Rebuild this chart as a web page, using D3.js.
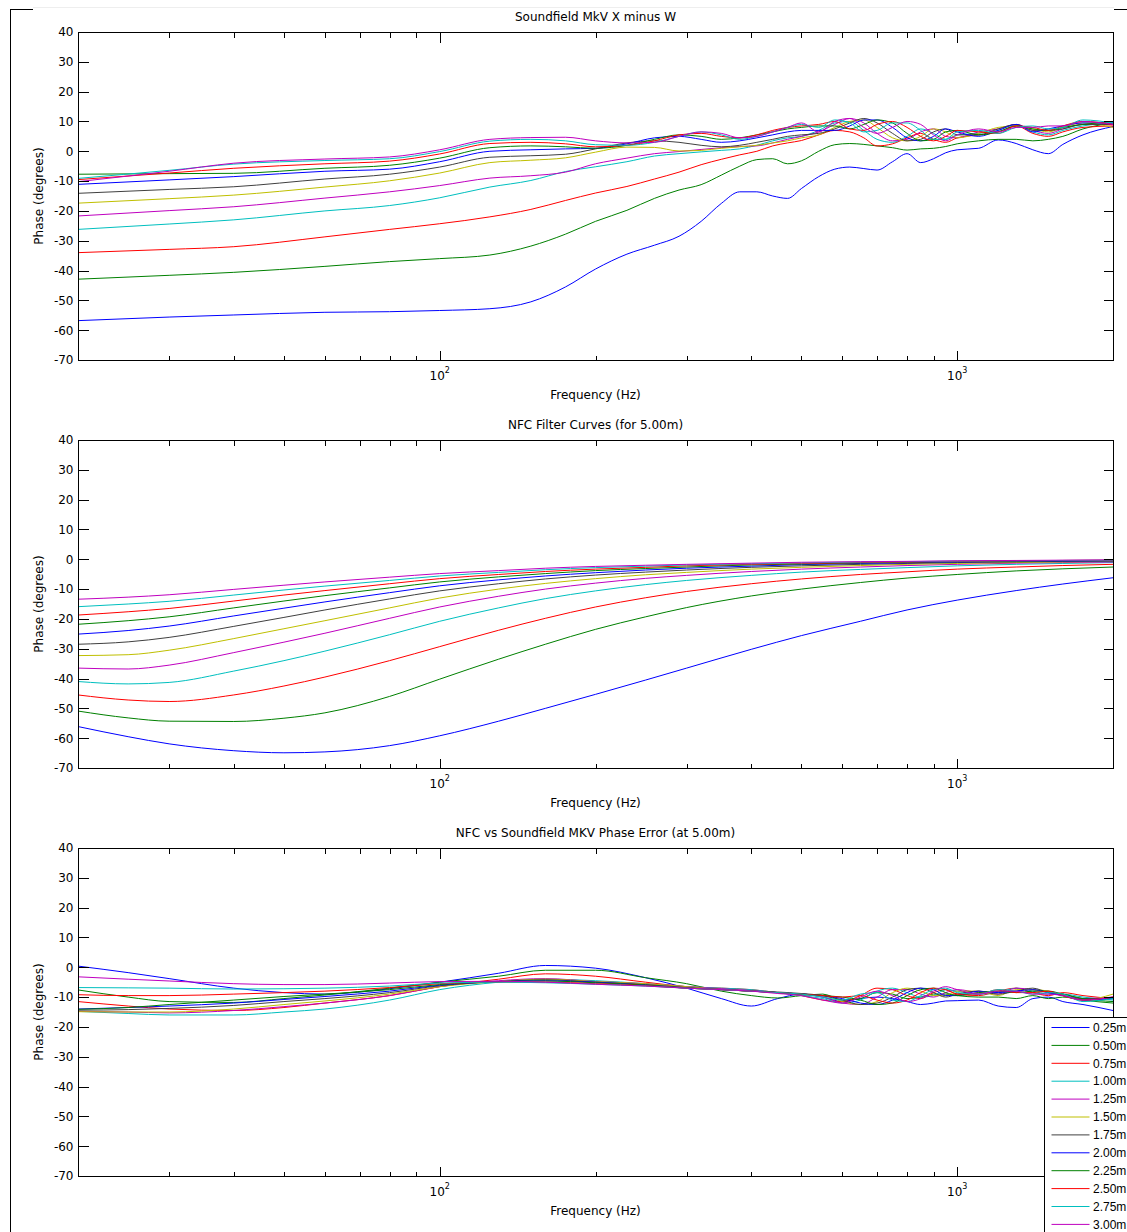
<!DOCTYPE html>
<html>
<head>
<meta charset="utf-8">
<script src="https://cdn.jsdelivr.net/npm/d3@7"></script>
<style>
  body { margin: 0; background: #fff; }
  svg text { font-family: "DejaVu Sans", "Liberation Sans", Arial, sans-serif; font-size: 12px; fill: #000; }
  svg .legend text { font-family: "Liberation Sans", Arial, sans-serif; font-size: 12px; }
</style>
</head>
<body>
<div id="chart"></div>
<script>
// distances in the legend, one curve per distance
const distances = ['0.25m', '0.50m', '0.75m', '1.00m', '1.25m', '1.50m', '1.75m', '2.00m', '2.25m', '2.50m', '2.75m', '3.00m'];
// matlab colour order, wraps after 7
const lineColors = ['#0000ff', '#008000', '#ff0000', '#00bfbf', '#bf00bf', '#bfbf00', '#404040',
                    '#0000ff', '#008000', '#ff0000', '#00bfbf', '#bf00bf'];

const yTicks = [40, 30, 20, 10, 0, -10, -20, -30, -40, -50, -60, -70];
const xMinorTicks = [20, 30, 40, 50, 60, 70, 80, 90, 200, 300, 400, 500, 600, 700, 800, 900, 2000];
const xMajorTicks = [100, 1000];

// ---- panel 1 : Soundfield MkV X minus W ----
const freqsTop = [20, 30, 40, 60, 80, 100, 125, 150, 175, 200, 230, 260, 290, 320, 350, 380, 410, 440, 470, 500,
                  540, 580, 620, 660, 700, 750, 800, 850, 900, 950, 1000, 1100, 1200, 1300, 1400, 1500, 1600, 1750, 2000];
const top025 = [-56.8, -55.6, -54.9, -54.0, -53.8, -53.4, -52.8, -50.5, -45.5, -39.5, -34.5, -31.5, -28.5, -23.5, -17.5, -13.6, -13.6, -15.0, -15.8, -12.5,
                -8.5, -6.0, -5.3, -5.8, -6.3, -3.5, -0.8, -3.8, -2.5, -0.5, 0.5, 1.0, 3.8, 2.6, 0.5, -0.8, 2.3, 5.5, 8.3];
const top050 = [-42.9, -41.6, -40.6, -38.6, -37.0, -36.0, -34.8, -31.8, -27.8, -23.5, -19.8, -15.8, -13.0, -11.2, -8.0, -5.0, -2.8, -2.5, -4.2, -3.2,
                0.0, 2.2, 2.6, 2.3, 1.8, 1.2, 0.4, 0.8, 1.0, 1.6, 2.5, 3.5, 4.0, 4.0, 3.5, 4.0, 5.0, 7.5, 9.5];
const top075 = [-34.0, -32.9, -32.0, -28.7, -26.2, -24.3, -22.0, -19.5, -16.5, -14.0, -11.8, -9.3, -7.0, -4.5, -2.7, -1.2, 0.0, 1.8, 2.8, 3.6,
                5.5, 7.0, 6.5, 4.5, 1.8, 2.5, 4.5, 6.0, 4.0, 3.0, 4.5, 5.5, 6.5, 8.5, 6.0, 5.0, 6.5, 8.0, 8.5];
const top100 = [-26.2, -24.4, -23.0, -20.0, -18.2, -15.6, -12.0, -9.8, -6.8, -5.2, -3.5, -1.6, -0.8, -0.2, 0.3, 0.8, 2.0, 3.5, 4.5, 5.0,
                7.0, 9.5, 10.0, 7.0, 4.0, 3.0, 5.0, 7.5, 6.0, 4.0, 5.5, 6.0, 7.0, 9.0, 6.5, 5.5, 7.0, 8.5, 9.5];
const top125 = [-21.7, -19.9, -18.6, -15.7, -13.6, -11.5, -9.0, -8.2, -7.0, -4.2, -2.3, -0.8, -0.1, 0.6, 1.2, 1.6, 1.8, 2.8, 4.0, 5.0,
                6.5, 9.0, 11.0, 9.5, 6.0, 3.5, 4.0, 6.5, 7.5, 5.0, 4.5, 6.5, 7.5, 9.0, 7.0, 6.0, 7.5, 9.0, 9.0];
const top150 = [-17.4, -15.9, -14.7, -12.0, -9.9, -7.3, -3.8, -3.0, -2.2, -0.3, 1.4, 1.3, 0.1, 0.3, 1.0, 1.5, 2.0, 2.8, 3.5, 4.5,
                5.5, 8.0, 10.0, 10.5, 8.0, 4.5, 3.5, 5.0, 7.5, 6.5, 4.5, 6.0, 8.0, 8.5, 7.5, 6.5, 8.0, 9.5, 8.0];
const top175 = [-14.1, -12.8, -11.9, -9.3, -7.7, -5.3, -2.0, -1.5, -1.0, 0.8, 2.8, 3.5, 3.0, 2.0, 1.5, 2.0, 3.0, 4.0, 5.0, 5.5,
                6.0, 7.5, 9.5, 11.0, 9.5, 6.0, 3.5, 4.0, 6.5, 7.5, 5.5, 5.5, 7.5, 9.0, 7.0, 7.0, 7.5, 9.0, 9.0];
const top200 = [-11.1, -9.6, -8.5, -6.7, -6.0, -3.5, 0.0, 0.5, 0.8, 1.0, 2.5, 4.5, 5.0, 4.0, 3.0, 3.5, 4.5, 5.5, 6.5, 7.0,
                7.0, 7.0, 8.5, 10.5, 10.5, 8.0, 4.5, 3.5, 5.0, 7.5, 6.5, 5.0, 7.0, 9.0, 6.5, 7.5, 8.5, 9.5, 9.5];
const top225 = [-7.7, -7.5, -7.4, -5.7, -4.7, -2.3, 1.2, 1.8, 1.5, 1.0, 2.0, 4.0, 5.5, 5.0, 4.0, 4.5, 5.5, 6.5, 7.5, 8.0,
                8.5, 8.5, 7.5, 9.0, 10.5, 9.5, 6.0, 3.5, 4.0, 6.5, 7.0, 5.5, 6.5, 8.5, 7.5, 7.0, 8.0, 9.0, 10.0];
const top250 = [-9.5, -7.3, -5.7, -4.2, -3.3, -0.9, 2.6, 3.0, 2.5, 1.5, 2.0, 3.5, 5.5, 6.0, 5.0, 4.5, 5.5, 7.0, 8.0, 8.5,
                9.0, 10.0, 7.5, 7.0, 9.0, 10.0, 8.0, 5.0, 3.5, 5.0, 7.0, 6.5, 6.0, 8.5, 8.0, 7.0, 8.5, 10.0, 9.0];
const top275 = [-9.1, -6.4, -4.3, -3.1, -2.5, -0.1, 3.4, 4.0, 3.5, 2.2, 2.0, 3.0, 5.0, 6.5, 5.5, 4.0, 5.0, 6.5, 8.0, 9.0,
                8.0, 10.5, 9.5, 6.5, 7.0, 9.5, 9.5, 7.0, 4.0, 4.0, 6.5, 7.0, 6.0, 8.0, 8.5, 7.5, 8.0, 10.5, 9.5];
const top300 = [-10.2, -6.7, -4.0, -2.6, -1.9, 0.5, 4.0, 4.6, 4.7, 3.5, 2.8, 3.0, 5.0, 6.5, 6.0, 4.5, 5.0, 6.5, 8.0, 9.5,
                6.5, 10.0, 11.0, 8.0, 6.0, 8.0, 10.0, 9.0, 5.5, 3.5, 5.5, 7.5, 6.5, 8.0, 8.0, 8.5, 8.5, 10.0, 9.0];

// ---- panel 2 : NFC filter curves ----
const freqsMid = [20, 25, 30, 40, 50, 60, 80, 100, 130, 160, 200, 250, 300, 400, 500, 650, 800, 1000, 1300, 1600, 2000];
const mid025 = [-56.1, -59.5, -61.9, -64.2, -64.9, -64.6, -62.5, -59.2, -54.3, -50.0, -45.3, -40.5, -36.5, -30.2, -25.6, -20.8, -17.0, -13.7, -10.5, -8.3, -6.2];
const mid050 = [-50.9, -53.2, -54.3, -54.4, -53.3, -51.5, -46.0, -40.2, -33.5, -28.5, -23.5, -19.3, -16.2, -12.3, -10.0, -7.8, -6.3, -5.1, -3.9, -3.2, -2.6];
const mid075 = [-45.5, -47.2, -47.7, -45.5, -42.5, -39.5, -34.0, -29.3, -23.8, -19.8, -16.0, -12.9, -10.8, -8.2, -6.6, -5.1, -4.2, -3.3, -2.6, -2.1, -1.7];
const mid100 = [-41.0, -41.8, -41.3, -37.5, -34.0, -30.8, -25.3, -20.8, -16.3, -13.2, -10.6, -8.5, -7.1, -5.4, -4.3, -3.4, -2.8, -2.2, -1.7, -1.4, -1.1];
const mid125 = [-36.5, -36.8, -35.5, -31.3, -27.8, -24.8, -19.8, -16.0, -12.4, -10.0, -8.0, -6.4, -5.4, -4.1, -3.3, -2.6, -2.1, -1.7, -1.3, -1.1, -0.9];
const mid150 = [-32.3, -32.0, -30.5, -26.6, -23.3, -20.6, -16.3, -13.0, -10.0, -8.1, -6.5, -5.2, -4.4, -3.3, -2.7, -2.1, -1.7, -1.4, -1.1, -0.9, -0.7];
const mid175 = [-28.5, -27.7, -26.2, -22.5, -19.5, -17.0, -13.3, -10.6, -8.2, -6.6, -5.3, -4.3, -3.6, -2.7, -2.2, -1.7, -1.4, -1.1, -0.9, -0.7, -0.6];
const mid200 = [-25.1, -23.9, -22.4, -19.0, -16.4, -14.3, -11.2, -8.9, -6.9, -5.6, -4.5, -3.6, -3.0, -2.3, -1.8, -1.4, -1.2, -0.9, -0.7, -0.6, -0.5];
const mid225 = [-21.8, -20.6, -19.3, -16.3, -14.0, -12.2, -9.6, -7.6, -5.9, -4.8, -3.8, -3.1, -2.6, -1.9, -1.6, -1.2, -1.0, -0.8, -0.6, -0.5, -0.4];
const mid250 = [-18.7, -17.6, -16.5, -14.0, -12.0, -10.5, -8.2, -6.5, -5.1, -4.1, -3.3, -2.7, -2.2, -1.7, -1.4, -1.1, -0.9, -0.7, -0.5, -0.4, -0.3];
const mid275 = [-15.9, -15.0, -14.1, -12.0, -10.3, -9.0, -7.1, -5.6, -4.4, -3.5, -2.8, -2.3, -1.9, -1.5, -1.2, -0.9, -0.8, -0.6, -0.5, -0.4, -0.3];
const mid300 = [-13.4, -12.7, -11.9, -10.1, -8.7, -7.6, -6.0, -4.8, -3.8, -3.0, -2.4, -2.0, -1.7, -1.3, -1.0, -0.8, -0.7, -0.5, -0.4, -0.3, -0.2];

// ---- panel 3 : phase error ----
const freqsErr = [20, 25, 30, 40, 50, 60, 80, 100, 130, 160, 200, 250, 300, 350, 400, 450, 500, 550, 600, 650, 700,
                  750, 800, 850, 900, 950, 1000, 1100, 1200, 1300, 1400, 1500, 1600, 1750, 2000];
const err025 = [0.4, -1.8, -3.8, -7.0, -8.5, -9.0, -7.2, -5.0, -2.0, 0.6, -0.3, -3.5,
                -7.0, -10.5, -13.0, -10.5, -9.0, -10.0, -11.5, -10.5, -10.0, -10.5, -11.5, -12.5, -12.0, -11.3, -11.2, -11.0, -13.0, -13.5, -10.5, -10.0, -11.5, -12.5, -14.5];
const err050 = [-7.6, -10.0, -11.5, -11.8, -10.5, -9.3, -7.0, -5.0, -3.0, -1.0, -1.0, -3.5,
                -5.5, -8.0, -9.5, -10.3, -9.5, -9.0, -11.0, -10.5, -8.5, -9.0, -10.5, -10.0, -9.0, -9.0, -9.5, -10.0, -10.0, -10.5, -9.5, -10.5, -10.0, -11.0, -12.0];
const err075 = [-11.5, -13.0, -14.0, -14.5, -13.5, -12.0, -9.5, -6.5, -4.0, -2.2, -3.0, -5.0,
                -6.5, -7.0, -7.5, -8.5, -9.5, -11.0, -11.5, -9.5, -7.0, -7.5, -9.5, -10.5, -8.5, -7.5, -9.0, -9.5, -8.0, -7.0, -8.5, -9.5, -8.5, -9.5, -10.5];
const err100 = [-14.8, -15.5, -16.0, -16.0, -15.0, -14.0, -11.0, -7.5, -5.0, -4.0, -4.5, -5.5,
                -6.5, -7.0, -7.5, -8.5, -9.5, -10.5, -12.0, -11.0, -8.0, -7.0, -8.5, -10.0, -9.5, -7.5, -8.0, -9.0, -8.5, -7.0, -8.0, -9.0, -9.0, -10.0, -11.0];
const err125 = [-14.8, -15.0, -15.3, -14.5, -13.2, -12.0, -9.5, -6.5, -4.5, -3.8, -4.8, -5.5,
                -6.5, -7.2, -7.8, -8.5, -9.0, -10.0, -12.0, -12.5, -10.0, -7.5, -7.5, -9.0, -10.0, -8.5, -7.5, -8.5, -9.0, -7.0, -7.5, -8.5, -9.5, -10.5, -10.0];
const err150 = [-14.9, -15.0, -15.0, -14.0, -12.5, -11.3, -9.0, -6.5, -4.8, -4.0, -4.8, -5.5,
                -6.5, -7.5, -8.0, -8.5, -9.0, -9.5, -11.5, -12.5, -11.5, -8.5, -7.0, -8.0, -9.5, -9.5, -8.0, -8.0, -9.5, -7.5, -7.5, -8.0, -9.5, -11.0, -9.0];
const err175 = [-14.4, -14.2, -13.8, -12.8, -11.5, -10.5, -8.5, -6.2, -4.8, -4.2, -5.0, -5.8,
                -6.8, -7.5, -8.0, -8.3, -8.8, -9.5, -11.0, -12.5, -12.0, -10.0, -7.5, -7.0, -8.5, -10.0, -9.0, -8.0, -9.0, -8.0, -7.0, -8.5, -9.0, -10.5, -10.5];
const err200 = [-14.0, -13.5, -13.0, -12.0, -10.8, -9.8, -8.0, -6.0, -4.8, -4.5, -5.0, -6.0,
                -7.0, -7.5, -8.0, -8.5, -9.0, -9.5, -10.5, -12.0, -12.5, -11.0, -8.5, -7.0, -7.5, -9.5, -9.5, -8.0, -8.5, -8.0, -7.5, -8.5, -9.5, -11.0, -10.5];
const err225 = [-14.1, -13.5, -12.5, -11.0, -9.8, -9.0, -7.5, -5.8, -4.8, -4.6, -5.2, -6.0,
                -7.0, -7.5, -8.0, -8.5, -9.0, -9.5, -10.0, -11.0, -12.5, -12.0, -9.5, -7.5, -7.0, -8.5, -9.5, -8.5, -8.0, -8.5, -8.0, -8.0, -9.0, -10.5, -11.5];
const err250 = [-9.2, -9.5, -9.5, -9.0, -8.5, -8.0, -6.8, -5.5, -5.0, -5.0, -5.5, -6.2,
                -7.0, -7.5, -8.0, -8.5, -9.0, -9.5, -10.0, -9.5, -11.0, -12.0, -11.0, -8.5, -7.0, -7.5, -9.0, -9.0, -7.5, -8.5, -8.5, -8.0, -9.5, -11.0, -10.0];
const err275 = [-6.8, -6.9, -7.0, -7.3, -7.2, -7.0, -6.3, -5.3, -5.0, -5.2, -5.7, -6.3,
                -7.0, -7.5, -8.0, -8.5, -9.0, -10.0, -11.0, -9.0, -8.5, -11.0, -11.5, -9.5, -7.5, -7.0, -8.5, -9.0, -7.5, -8.0, -9.0, -8.5, -9.0, -11.5, -10.5];
const err300 = [-3.2, -4.0, -4.6, -5.5, -5.8, -5.8, -5.3, -4.8, -4.7, -5.0, -5.7, -6.3,
                -7.0, -7.5, -8.0, -8.8, -9.5, -11.0, -12.0, -10.0, -8.0, -9.5, -11.5, -10.5, -8.0, -6.5, -7.5, -9.0, -8.0, -8.0, -9.0, -9.0, -9.5, -11.0, -10.0];

const panels = [
  { title: 'Soundfield MkV X minus W', top: 32, freqs: freqsTop,
    series: [top025, top050, top075, top100, top125, top150, top175, top200, top225, top250, top275, top300] },
  { title: 'NFC Filter Curves (for 5.00m)', top: 440, freqs: freqsMid,
    series: [mid025, mid050, mid075, mid100, mid125, mid150, mid175, mid200, mid225, mid250, mid275, mid300] },
  { title: 'NFC vs Soundfield MKV Phase Error (at 5.00m)', top: 848, freqs: freqsErr,
    series: [err025, err050, err075, err100, err125, err150, err175, err200, err225, err250, err275, err300], legend: true }
];

const W = 1127, H = 1232;
const left = 78, right = 1113, plotH = 328;

const svg = d3.select('#chart').append('svg')
  .attr('width', W).attr('height', H)
  .style('display', 'block');

svg.append('rect').attr('width', W).attr('height', H).attr('fill', '#fff');

// bits of the figure window frame that show in the screenshot
const frame = svg.append('g').attr('stroke', '#000').attr('shape-rendering', 'crispEdges');
frame.append('line').attr('x1', 33).attr('x2', 1114).attr('y1', 7.5).attr('y2', 7.5).attr('stroke', '#eeeeee');
frame.append('line').attr('x1', 10.5).attr('x2', 10.5).attr('y1', 9).attr('y2', H);
frame.append('line').attr('x1', 10).attr('x2', 33).attr('y1', 9.5).attr('y2', 9.5);
frame.append('line').attr('x1', 1114).attr('x2', W).attr('y1', 9.5).attr('y2', 9.5);

const x = d3.scaleLog().domain([20, 2000]).range([left, right]);

panels.forEach((p, pi) => {
  const y = d3.scaleLinear().domain([-70, 40]).range([p.top + plotH, p.top]);
  const g = svg.append('g');
  const bottom = p.top + plotH;

  g.append('clipPath').attr('id', 'clip' + pi)
    .append('rect').attr('x', left).attr('y', p.top).attr('width', right - left).attr('height', plotH);

  // curves
  const line = d3.line()
    .x(d => x(d[0]))
    .y(d => y(d[1]))
    .curve(d3.curveMonotoneX);

  g.append('g').attr('clip-path', `url(#clip${pi})`)
    .selectAll('path')
    .data(p.series.map((vals, i) => ({ vals, color: lineColors[i] })))
    .join('path')
    .attr('fill', 'none')
    .attr('stroke', d => d.color)
    .attr('stroke-width', 1)
    .attr('d', d => line(d.vals.map((v, i) => [p.freqs[i], v])));

  // box
  g.append('rect')
    .attr('x', left + 0.5).attr('y', p.top + 0.5)
    .attr('width', right - left).attr('height', plotH)
    .attr('fill', 'none').attr('stroke', '#000')
    .attr('shape-rendering', 'crispEdges');

  // y axis left with labels, ticks pointing in
  const yAxisL = g.append('g')
    .attr('transform', `translate(${left + 0.5},0)`)
    .call(d3.axisLeft(y).tickValues(yTicks).tickSize(-10).tickPadding(5).tickFormat(d => String(d)));
  const yAxisR = g.append('g')
    .attr('transform', `translate(${right + 0.5},0)`)
    .call(d3.axisRight(y).tickValues(yTicks).tickSize(-10).tickFormat(''));

  // x minor ticks, top and bottom
  const xMinB = g.append('g').attr('transform', `translate(0,${bottom + 0.5})`)
    .call(d3.axisBottom(x).tickValues(xMinorTicks).tickSize(-5).tickFormat(''));
  const xMinT = g.append('g').attr('transform', `translate(0,${p.top + 0.5})`)
    .call(d3.axisTop(x).tickValues(xMinorTicks).tickSize(-5).tickFormat(''));
  const xMajB = g.append('g').attr('transform', `translate(0,${bottom + 0.5})`)
    .call(d3.axisBottom(x).tickValues(xMajorTicks).tickSize(-10).tickFormat(''));
  const xMajT = g.append('g').attr('transform', `translate(0,${p.top + 0.5})`)
    .call(d3.axisTop(x).tickValues(xMajorTicks).tickSize(-10).tickFormat(''));

  [yAxisL, yAxisR, xMinB, xMinT, xMajB, xMajT].forEach(a => {
    a.select('.domain').remove();
    a.selectAll('line').attr('stroke', '#000').attr('shape-rendering', 'crispEdges');
    a.attr('font-family', null).attr('font-size', null);
  });
  yAxisL.selectAll('text').attr('fill', '#000');

  // decade labels 10^2, 10^3
  const dec = g.selectAll('.dec')
    .data(xMajorTicks)
    .join('text')
    .attr('class', 'dec')
    .attr('x', d => x(d))
    .attr('y', bottom + 20)
    .attr('text-anchor', 'middle');
  dec.append('tspan').text('10');
  dec.append('tspan').attr('dy', -7).style('font-size', '8px').text(d => Math.round(Math.log10(d)));

  // texts
  g.append('text').attr('x', (left + right) / 2).attr('y', p.top - 11)
    .attr('text-anchor', 'middle').text(p.title);
  g.append('text').attr('x', (left + right) / 2).attr('y', bottom + 39)
    .attr('text-anchor', 'middle').text('Frequency (Hz)');
  g.append('text')
    .attr('transform', `translate(43,${p.top + plotH / 2}) rotate(-90)`)
    .attr('text-anchor', 'middle').text('Phase (degrees)');

  if (p.legend) {
    const lg = svg.append('g').attr('class', 'legend').attr('transform', 'translate(1044.5,1017.5)');
    lg.append('rect').attr('width', 200).attr('height', 260)
      .attr('fill', '#fff').attr('stroke', '#000').attr('shape-rendering', 'crispEdges');
    const item = lg.selectAll('.item')
      .data(distances.map((label, i) => ({ label, color: lineColors[i] })))
      .join('g')
      .attr('class', 'item')
      .attr('transform', (d, i) => `translate(0,${10 + i * 17.9})`);
    item.append('line')
      .attr('x1', 7).attr('x2', 45)
      .attr('stroke', d => d.color);
    item.append('text').attr('x', 48.5).attr('dy', '0.35em').text(d => d.label);
  }
});
</script>
</body>
</html>
